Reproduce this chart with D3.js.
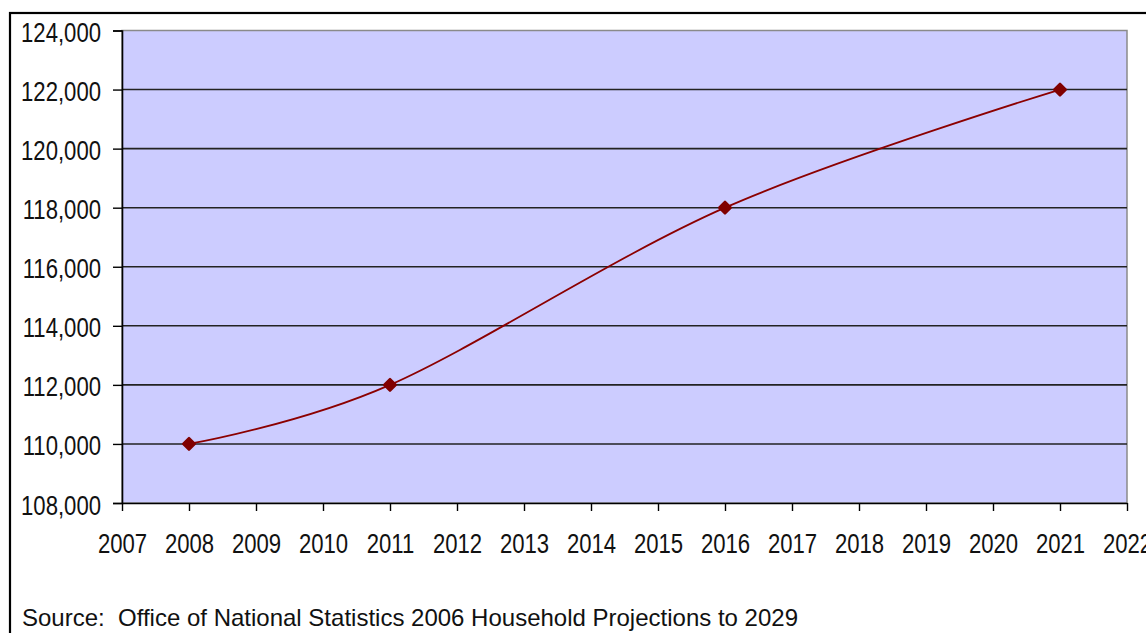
<!DOCTYPE html>
<html>
<head>
<meta charset="utf-8">
<script src="https://cdn.jsdelivr.net/npm/d3@7"></script>
<style>
  html, body { margin: 0; padding: 0; background: #fff; }
  svg { display: block; }
  text { font-family: "Liberation Sans", Arial, sans-serif; fill: #111; }
</style>
</head>
<body>
<svg id="chart" width="1146" height="633"></svg>
<script>
// Projected number of households
const years = [2008, 2011, 2016, 2021];
const households = [110000, 112000, 118000, 122000];

// Axis ticks
const yearTicks = d3.range(2007, 2023);
const householdTicks = d3.range(108000, 124001, 2000);

const sourceNote = "Source:  Office of National Statistics 2006 Household Projections to 2029";

const svg = d3.select("#chart");
const plot = { left: 122, right: 1127, top: 30.5, bottom: 503 };

const x = d3.scaleLinear().domain([2007, 2022]).range([plot.left, plot.right]);
const y = d3.scaleLinear().domain([108000, 124000]).range([plot.bottom, plot.top]);

// Outer frame (runs off the right and bottom edges)
svg.append("rect")
  .attr("x", 10).attr("y", 13)
  .attr("width", 1200).attr("height", 700)
  .attr("fill", "none").attr("stroke", "#000").attr("stroke-width", 2.2);

// Plot background
svg.append("rect")
  .attr("x", plot.left).attr("y", plot.top)
  .attr("width", plot.right - plot.left).attr("height", plot.bottom - plot.top)
  .attr("fill", "#ccccff")
  .attr("stroke", "#8a8a8a").attr("stroke-width", 1.5);

// Horizontal gridlines
svg.append("g")
  .selectAll("line")
  .data(householdTicks.slice(1, -1))
  .join("line")
  .attr("x1", plot.left).attr("x2", plot.right)
  .attr("y1", d => y(d)).attr("y2", d => y(d))
  .attr("stroke", "#222").attr("stroke-width", 1.6);

// Narrow the axis labels horizontally, as in the condensed typeface
function condense(sel, factor) {
  sel.each(function () {
    const len = this.getComputedTextLength();
    d3.select(this)
      .attr("textLength", len * factor)
      .attr("lengthAdjust", "spacingAndGlyphs");
  });
}

// Y axis
const yAxis = svg.append("g")
  .attr("transform", `translate(${plot.left},0)`)
  .call(d3.axisLeft(y).tickValues(householdTicks).tickFormat(d3.format(",")).tickSize(9).tickPadding(12));
yAxis.select(".domain").attr("stroke", "#000").attr("stroke-width", 1.6);
yAxis.selectAll(".tick line").attr("stroke", "#000").attr("stroke-width", 1.4);
yAxis.selectAll(".tick text")
  .attr("font-size", 28).attr("dy", 11).attr("fill", "#111")
  .call(condense, 0.79);

// X axis
const xAxis = svg.append("g")
  .attr("transform", `translate(0,${plot.bottom})`)
  .call(d3.axisBottom(x).tickValues(yearTicks).tickFormat(d3.format("d")).tickSize(8).tickSizeOuter(0).tickPadding(0));
xAxis.select(".domain").attr("stroke", "#000").attr("stroke-width", 1.6);
xAxis.selectAll(".tick line").attr("stroke", "#000").attr("stroke-width", 1.4);
xAxis.selectAll(".tick text")
  .attr("font-size", 28).attr("y", 50).attr("dy", 0).attr("fill", "#111")
  .call(condense, 0.79);

// Smoothed projection line
const points = years.map((yr, i) => [yr, households[i]]);
const line = d3.line()
  .x(d => x(d[0]))
  .y(d => y(d[1]))
  .curve(d3.curveCardinal.tension(0));

svg.append("path")
  .datum(points)
  .attr("d", line)
  .attr("fill", "none")
  .attr("stroke", "#8b0000")
  .attr("stroke-width", 1.8);

// Diamond markers
svg.append("g")
  .selectAll("path")
  .data(points)
  .join("path")
  .attr("transform", d => `translate(${x(d[0])},${y(d[1])})`)
  .attr("d", d3.symbol().type(d3.symbolDiamond2).size(85))
  .attr("fill", "#800000")
  .attr("stroke", "#800000")
  .attr("stroke-width", 2.5)
  .attr("stroke-linejoin", "round");

// Source note
svg.append("text")
  .attr("x", 22).attr("y", 626)
  .attr("font-size", 24)
  .attr("fill", "#111")
  .style("white-space", "pre")
  .attr("textLength", 776)
  .attr("lengthAdjust", "spacingAndGlyphs")
  .text(sourceNote);
</script>
</body>
</html>
